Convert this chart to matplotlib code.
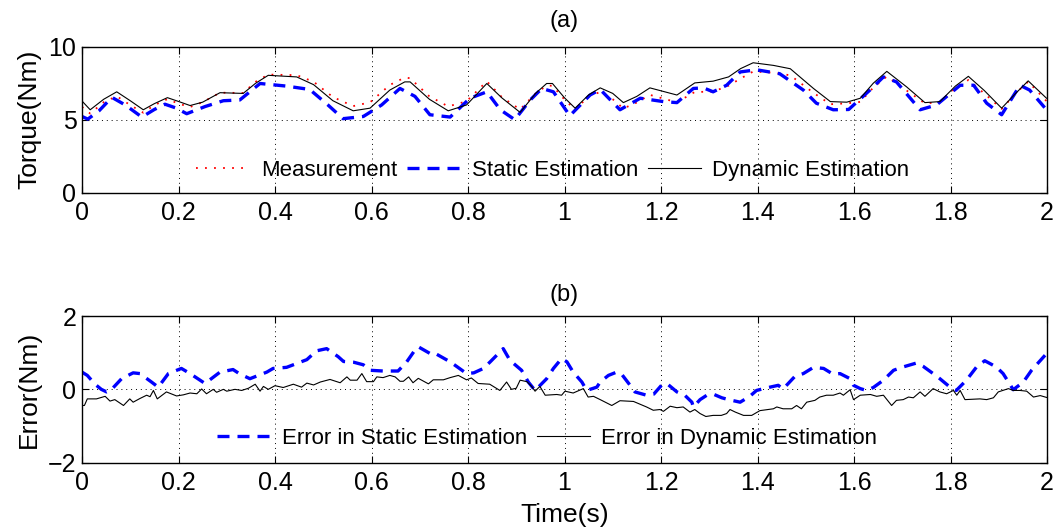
import matplotlib
matplotlib.use("Agg")
import matplotlib.pyplot as plt

plt.rcParams['font.family'] = ['Liberation Sans', 'DejaVu Sans']
plt.rcParams['font.size'] = 16

# ---- (a) torque ----
t_dyn = [0.000, 0.017, 0.045, 0.072, 0.100, 0.127, 0.150, 0.177, 0.200, 0.224, 0.250, 0.286, 0.334,
         0.360, 0.386, 0.445, 0.480, 0.520, 0.562, 0.597, 0.638, 0.669, 0.680, 0.720, 0.759, 0.797,
         0.839, 0.870, 0.908, 0.940, 0.963, 0.975, 1.000, 1.022, 1.050, 1.074, 1.100, 1.122, 1.150,
         1.177, 1.233, 1.270, 1.308, 1.340, 1.365, 1.391, 1.433, 1.468, 1.516, 1.551, 1.585, 1.613,
         1.640, 1.668, 1.709, 1.747, 1.778, 1.810, 1.837, 1.870, 1.906, 1.935, 1.961, 1.999]
dynamic = [6.28, 5.68, 6.40, 6.91, 6.30, 5.68, 6.10, 6.51, 6.25, 5.97, 6.20, 6.85, 6.80,
           7.50, 8.04, 7.93, 7.40, 6.30, 5.61, 5.79, 7.03, 7.59, 7.59, 6.40, 5.61, 6.01,
           7.48, 6.50, 5.50, 6.80, 7.48, 7.48, 6.50, 5.79, 6.70, 7.18, 6.80, 6.17, 6.60,
           7.18, 6.69, 7.52, 7.64, 7.93, 8.50, 8.90, 8.72, 8.49, 7.14, 6.24, 6.20, 6.47,
           7.50, 8.31, 7.25, 6.17, 6.24, 7.30, 7.97, 7.00, 5.79, 6.80, 7.66, 6.47]
measurement = [5.88, 5.42, 6.20, 6.61, 6.00, 5.48, 6.00, 6.41, 6.10, 5.87, 6.20, 6.85, 6.83,
               7.60, 8.09, 8.05, 7.60, 6.55, 5.93, 6.19, 7.38, 7.89, 7.84, 6.60, 5.91, 6.26,
               7.63, 6.55, 5.70, 6.80, 7.33, 7.33, 6.38, 5.69, 6.60, 6.90, 6.40, 5.77, 6.18,
               6.70, 6.19, 6.90, 6.92, 7.33, 7.82, 8.30, 8.22, 8.04, 6.84, 6.06, 6.12, 6.22,
               7.20, 7.96, 7.00, 6.12, 6.19, 7.15, 7.72, 6.80, 5.74, 6.80, 7.61, 6.27]
t_sta = [0.000, 0.012, 0.035, 0.062, 0.090, 0.124, 0.150, 0.172, 0.195, 0.217, 0.255, 0.293, 0.327,
         0.369, 0.424, 0.472, 0.510, 0.541, 0.583, 0.621, 0.659, 0.690, 0.721, 0.763, 0.804, 0.839,
         0.867, 0.897, 0.929, 0.953, 0.977, 1.011, 1.053, 1.074, 1.115, 1.157, 1.205, 1.233, 1.267,
         1.288, 1.308, 1.336, 1.364, 1.398, 1.446, 1.495, 1.522, 1.557, 1.589, 1.633, 1.661, 1.688,
         1.737, 1.771, 1.820, 1.848, 1.875, 1.906, 1.944, 1.964, 1.999]
static = [5.22, 5.04, 5.60, 6.53, 6.00, 5.18, 5.70, 6.06, 5.80, 5.41, 5.90, 6.30, 6.35,
          7.48, 7.30, 7.07, 6.00, 5.07, 5.22, 6.01, 7.14, 6.60, 5.34, 5.18, 6.47, 6.91,
          5.68, 5.00, 6.35, 7.14, 6.91, 5.27, 6.69, 7.07, 5.68, 6.47, 6.24, 6.17, 7.14,
          7.18, 6.91, 7.36, 8.27, 8.42, 8.15, 7.03, 6.13, 5.68, 5.70, 7.03, 7.93, 7.59,
          5.68, 6.01, 7.36, 7.36, 6.13, 5.34, 7.36, 7.03, 5.68]

# ---- (b) errors ----
t_err_dyn = [0.000, 0.005, 0.011, 0.030, 0.048, 0.058, 0.068, 0.086, 0.099, 0.106, 0.120, 0.134, 0.141,
             0.148, 0.156, 0.175, 0.196, 0.210, 0.224, 0.238, 0.248, 0.258, 0.272, 0.279, 0.293, 0.300,
             0.317, 0.331, 0.345, 0.359, 0.369, 0.376, 0.386, 0.400, 0.417, 0.438, 0.455, 0.466, 0.480,
             0.494, 0.514, 0.535, 0.549, 0.556, 0.570, 0.580, 0.590, 0.604, 0.611, 0.624, 0.638, 0.649,
             0.659, 0.666, 0.677, 0.686, 0.697, 0.718, 0.728, 0.749, 0.763, 0.780, 0.797, 0.807, 0.821,
             0.845, 0.866, 0.880, 0.890, 0.900, 0.908, 0.922, 0.932, 0.939, 0.949, 0.960, 0.984, 0.994,
             1.001, 1.018, 1.039, 1.049, 1.060, 1.074, 1.098, 1.115, 1.143, 1.170, 1.184, 1.198, 1.205,
             1.219, 1.233, 1.246, 1.260, 1.270, 1.281, 1.293, 1.308, 1.325, 1.336, 1.343, 1.354, 1.371,
             1.388, 1.405, 1.433, 1.440, 1.453, 1.471, 1.481, 1.491, 1.502, 1.519, 1.529, 1.543, 1.557,
             1.571, 1.578, 1.592, 1.599, 1.613, 1.634, 1.647, 1.661, 1.678, 1.688, 1.702, 1.713, 1.723,
             1.737, 1.747, 1.764, 1.778, 1.792, 1.806, 1.813, 1.820, 1.830, 1.861, 1.875, 1.889, 1.899,
             1.920, 1.930, 1.944, 1.958, 1.972, 1.986, 1.999]
err_dyn = [-0.44, -0.44, -0.26, -0.26, -0.19, -0.32, -0.28, -0.44, -0.26, -0.35, -0.25, -0.16, -0.20,
           -0.03, -0.26, -0.07, -0.18, -0.15, -0.10, -0.12, 0.01, -0.12, 0.00, -0.08, 0.00, -0.05,
           0.00, -0.03, 0.03, 0.14, -0.05, 0.08, 0.00, 0.10, 0.05, 0.14, 0.06, 0.17, 0.12,
           0.20, 0.27, 0.18, 0.34, 0.25, 0.25, 0.43, 0.21, 0.21, 0.34, 0.32, 0.38, 0.34,
           0.22, 0.22, 0.34, 0.18, 0.30, 0.15, 0.26, 0.26, 0.32, 0.38, 0.26, 0.31, 0.16,
           0.14, -0.03, 0.20, 0.00, 0.03, 0.25, 0.21, 0.08, -0.05, 0.08, -0.16, -0.14, -0.16,
           -0.05, -0.10, 0.02, -0.21, -0.19, -0.28, -0.44, -0.31, -0.33, -0.48, -0.57, -0.55, -0.60,
           -0.46, -0.50, -0.48, -0.62, -0.55, -0.66, -0.74, -0.71, -0.71, -0.66, -0.55, -0.62, -0.71,
           -0.71, -0.58, -0.53, -0.48, -0.53, -0.53, -0.44, -0.53, -0.35, -0.30, -0.21, -0.16, -0.16,
           -0.10, -0.16, -0.01, -0.28, -0.16, -0.14, -0.19, -0.16, -0.44, -0.30, -0.28, -0.21, -0.23,
           -0.07, -0.19, 0.02, -0.07, -0.12, -0.03, -0.16, -0.03, -0.28, -0.26, -0.28, -0.23, -0.07,
           0.02, -0.03, -0.03, -0.05, -0.21, -0.17, -0.22]
t_err_sta = [0.000, 0.011, 0.027, 0.040, 0.051, 0.060, 0.082, 0.106, 0.120, 0.144, 0.158, 0.179, 0.206,
             0.224, 0.255, 0.286, 0.313, 0.327, 0.348, 0.383, 0.396, 0.424, 0.466, 0.486, 0.507, 0.531,
             0.542, 0.563, 0.583, 0.597, 0.624, 0.655, 0.673, 0.690, 0.697, 0.721, 0.728, 0.763, 0.777,
             0.797, 0.812, 0.832, 0.846, 0.873, 0.887, 0.911, 0.925, 0.939, 0.963, 0.977, 0.994, 1.005,
             1.018, 1.036, 1.046, 1.067, 1.074, 1.091, 1.108, 1.118, 1.136, 1.146, 1.170, 1.185, 1.201,
             1.212, 1.233, 1.250, 1.264, 1.267, 1.281, 1.295, 1.310, 1.326, 1.340, 1.364, 1.384, 1.398,
             1.419, 1.443, 1.453, 1.478, 1.495, 1.516, 1.537, 1.557, 1.571, 1.592, 1.599, 1.613, 1.626,
             1.640, 1.661, 1.682, 1.699, 1.730, 1.743, 1.764, 1.778, 1.799, 1.812, 1.833, 1.854, 1.871,
             1.895, 1.909, 1.923, 1.930, 1.951, 1.968, 1.996]
err_sta = [0.47, 0.38, 0.14, 0.00, -0.07, -0.02, 0.29, 0.45, 0.43, 0.20, 0.06, 0.43, 0.57,
           0.43, 0.16, 0.47, 0.54, 0.42, 0.29, 0.47, 0.57, 0.60, 0.81, 1.05, 1.11, 0.89,
           0.76, 0.74, 0.67, 0.52, 0.50, 0.50, 0.75, 1.07, 1.16, 0.98, 1.01, 0.75, 0.62,
           0.43, 0.45, 0.57, 0.75, 1.11, 0.79, 0.52, 0.20, -0.03, 0.29, 0.57, 0.84, 0.75,
           0.47, 0.20, -0.03, 0.06, 0.20, 0.38, 0.47, 0.42, 0.11, -0.07, -0.16, -0.13, 0.11,
           0.16, -0.07, -0.17, -0.35, -0.48, -0.28, -0.16, -0.14, -0.23, -0.28, -0.35, -0.19, -0.03,
           0.04, 0.11, 0.01, 0.36, 0.43, 0.60, 0.57, 0.41, 0.43, 0.29, 0.11, 0.02, -0.03,
           0.05, 0.25, 0.52, 0.60, 0.72, 0.63, 0.43, 0.29, 0.06, -0.03, 0.25, 0.61, 0.78,
           0.61, 0.43, 0.14, -0.01, 0.20, 0.52, 0.93]

x_ticks = [0, 0.2, 0.4, 0.6, 0.8, 1, 1.2, 1.4, 1.6, 1.8, 2]
x_ticklabels = ['0', '0.2', '0.4', '0.6', '0.8', '1', '1.2', '1.4', '1.6', '1.8', '2']

fig = plt.figure(figsize=(10.58, 5.29), dpi=100)
W, H = 1058, 529
ax1 = fig.add_axes([82 / W, 1 - 192.7 / H, 965 / W, 146 / H])
ax2 = fig.add_axes([82 / W, 1 - 462.7 / H, 965 / W, 146.7 / H])

grid_kw = dict(color='black', linestyle=(0, (1, 4)), linewidth=0.7)
TICK_FS = 18
LABEL_FS = 19
DASH = (0, (3.6, 2.4))

def style(ax):
    ax.set_xlim(0, 2)
    ax.set_xticks(x_ticks)
    ax.set_xticklabels(x_ticklabels)
    ax.tick_params(direction='in', length=5, width=0.8, top=True, right=True,
                   labelsize=TICK_FS, pad=4)
    ax.tick_params(axis='x', pad=6)
    for s in ax.spines.values():
        s.set_linewidth(1.0)
    ax.grid(True, **grid_kw)

ax1.plot(t_dyn, measurement, color='red', linestyle=(0, (1, 4)), linewidth=1.3, label='Measurement')
ax1.plot(t_sta, static, color='blue', linestyle=DASH, linewidth=2.4, label='Static Estimation')
ax1.plot(t_dyn, dynamic, color='black', linestyle='-', linewidth=0.8, label='Dynamic Estimation')
style(ax1)
ax1.set_ylim(0, 10)
ax1.set_yticks([0, 5, 10])
ax1.set_ylabel('Torque(Nm)', fontsize=LABEL_FS, labelpad=5)
ax1.set_title('(a)', fontsize=17, pad=14)
ax1.legend(loc='center', bbox_to_anchor=(0.488, 0.155), ncol=3, frameon=False, fontsize=16,
           handlelength=2.4, handletextpad=0.5, columnspacing=0.45, borderpad=0)

ax2.plot(t_err_sta, err_sta, color='blue', linestyle=DASH, linewidth=2.4,
         label='Error in Static Estimation')
ax2.plot(t_err_dyn, err_dyn, color='black', linestyle='-', linewidth=0.8,
         label='Error in Dynamic Estimation')
style(ax2)
ax2.set_ylim(-2, 2)
ax2.set_yticks([-2, 0, 2])
ax2.set_yticklabels(['\u22122', '0', '2'])
ax2.set_ylabel('Error(Nm)', fontsize=LABEL_FS, labelpad=5)
ax2.set_xlabel('Time(s)', fontsize=LABEL_FS, labelpad=6)
ax2.set_title('(b)', fontsize=17, pad=11)
ax2.legend(loc='center', bbox_to_anchor=(0.482, 0.168), ncol=2, frameon=False, fontsize=16,
           handlelength=2.4, handletextpad=0.5, columnspacing=0.45, borderpad=0)

fig.savefig('out.png', dpi=100)
